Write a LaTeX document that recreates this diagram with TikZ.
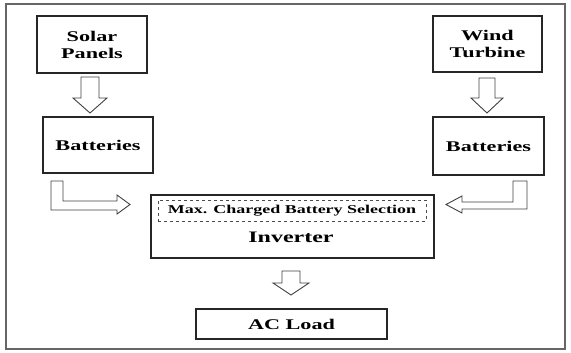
\documentclass[tikz,border=0pt]{standalone}
\usepackage{fontspec}
\setmainfont{Liberation Serif}[FakeStretch=1.5]
\begin{document}
\begin{tikzpicture}[x=1pt,y=-1pt,
  box/.style={draw=black!85,line width=1.8pt,inner sep=0pt,align=center,font=\bfseries\fontsize{14.8}{17}\selectfont},
  blockarrow/.style={draw=black!75,line width=0.9pt,fill=white,line join=miter}]
\useasboundingbox (0,0) rectangle (571,353);
\draw[black!60,line width=1.3pt] (6,4) rectangle (565,349);
\node[box,minimum width=110pt,minimum height=57pt] (solar) at (92,44.5) {Solar\\Panels};
\node[box,minimum width=109pt,minimum height=56pt] (wind) at (487.5,44) {Wind\\Turbine};
\node[box,minimum width=110pt,minimum height=56pt] (batl) at (98,145) {Batteries};
\node[box,minimum width=111pt,minimum height=58pt] (batr) at (488.5,146) {Batteries};
\node[box,minimum width=283pt,minimum height=63pt] (inv) at (292.5,226.5) {};
\node[draw=black!70,dashed,line width=0.8pt,minimum width=268pt,minimum height=21pt,inner sep=0pt,font=\bfseries\fontsize{12}{14}\selectfont] (sel) at (292,210.5) {Max. Charged Battery Selection};
\node[font=\bfseries\fontsize{16}{18}\selectfont,inner sep=0pt] (invtext) at (291,237) {Inverter};
\node[box,minimum width=191pt,minimum height=30pt] (load) at (291.5,324) {AC Load};
% straight block arrows
\draw[blockarrow] (81,77) -- (99,77) -- (99,98) -- (107,98) -- (90,113) -- (73,98) -- (81,98) -- cycle;
\draw[blockarrow] (479,78) -- (495,78) -- (495,98) -- (503,98) -- (487,113) -- (471,98) -- (479,98) -- cycle;
\draw[blockarrow] (282,271) -- (300,271) -- (300,283) -- (309,283) -- (291,295) -- (273,283) -- (282,283) -- cycle;
% elbow block arrows
\draw[blockarrow] (51,181) -- (51,210) -- (117,210) -- (117,214) -- (130,204.5) -- (117,195) -- (117,201) -- (63,201) -- (63,181) -- cycle;
\draw[blockarrow] (527,181) -- (527,209) -- (462,209) -- (462,213) -- (446,204.5) -- (462,196) -- (462,202) -- (513,202) -- (513,181) -- cycle;
\end{tikzpicture}
\end{document}
